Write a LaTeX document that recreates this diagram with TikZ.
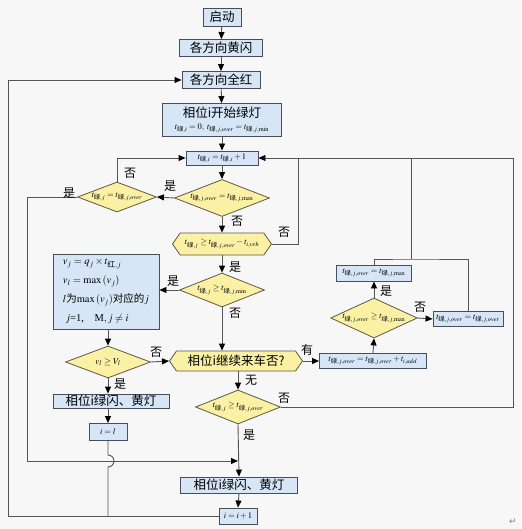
\documentclass[tikz,border=0pt]{standalone}
\usepackage{amsmath}
\usepackage{mathptmx}
\usepackage{fontspec}
\setmainfont{Liberation Serif}
\newfontfamily\cjk{Noto Sans CJK SC}
\newfontfamily\dejavu{DejaVu Sans}
\usetikzlibrary{shapes.geometric,shapes.symbols,arrows.meta}
\definecolor{bg}{HTML}{F7F7F7}
\definecolor{boxfill}{HTML}{D6E6F6}
\definecolor{boxline}{HTML}{4A4F57}
\definecolor{dfill}{HTML}{FAF1A4}
\definecolor{dline}{HTML}{5C5844}
\definecolor{ln}{HTML}{555555}
\newcommand{\lv}{\text{\cjk 绿}}
\newcommand{\hg}{\text{\cjk 红}}
\tikzset{
  box/.style={draw=boxline, fill=boxfill, line width=0.9pt, inner sep=0pt, align=center,
    font=\cjk\fontsize{12.5}{14}\selectfont},
  mbox/.style={box, font=\fontsize{8.5}{10}\selectfont},
  dia/.style={diamond, draw=dline, fill=dfill, line width=0.8pt, inner sep=0pt, aspect=2.6,
    font=\fontsize{8.5}{10}\selectfont},
  hexa/.style={signal, signal to=west and east, signal pointer angle=110, draw=dline, fill=dfill,
    line width=0.8pt, inner sep=0pt},
  conn/.style={draw=ln, line width=0.9pt},
  arr/.style={conn, -{Triangle[length=7pt,width=6pt,color=black]}},
  lab/.style={font=\cjk\fontsize{12}{13}\selectfont, inner sep=0pt}
}
\begin{document}
\begin{tikzpicture}[x=1pt,y=-1pt]
\fill[bg] (0,0) rectangle (521,529);
\useasboundingbox (0,0) rectangle (521,529);
% nodes
\node[box, minimum width=38, minimum height=18] (start) at (222,17) {启动};
\node[box, minimum width=83, minimum height=17] (yflash) at (221,48) {各方向黄闪};
\node[box, minimum width=78, minimum height=17] (allred) at (221,80) {各方向全红};
\node[box, minimum width=119, minimum height=33] (green) at (222,120)
  {相位i开始绿灯\\[-2pt]{\fontsize{8.5}{10}\selectfont $t_{\lv,i}=0,\ t_{\lv,j,over}=t_{\lv,j,\min}$}};
\node[mbox, minimum width=72, minimum height=14] (inc) at (222,158) {$t_{\lv,i}=t_{\lv,i}+1$};
\node[dia, minimum width=95, minimum height=37] (d1) at (222,198) {$t_{\lv,j,over}=t_{\lv,j,\max}$};
\node[dia, minimum width=79, minimum height=30] (d0) at (117,197) {$t_{\lv,j}=t_{\lv,j,over}$};
\node[hexa, minimum width=99, minimum height=22, font=\fontsize{8.5}{10}\selectfont] (h1) at (222,244)
  {$t_{\lv,j}\ge t_{\lv,j,over}-t_{i,veh}$};
\node[dia, minimum width=85, minimum height=34] (d3) at (222,290) {$t_{\lv,j}\ge t_{\lv,j,\min}$};
\node[box, minimum width=106, minimum height=75, align=left, font=\fontsize{10.5}{19}\selectfont] (big) at (106,291.5)
  {$v_j=q_j\times t_{\hg,j}$\\
   $v_l=\max\left(v_j\right)$\\
   $l${\cjk 为}$\max\left(v_j\right)${\cjk 对应的}$j$\\
   \ $j$=1,\quad M$,j\neq i$};
\node[dia, minimum width=85, minimum height=32, font=\fontsize{9}{10}\selectfont] (d5) at (108,362) {$v_l\ge V_l$};
\node[hexa, minimum width=133, minimum height=20, font=\cjk\fontsize{12.5}{14}\selectfont] (h2) at (236,361) {相位i继续来车否?};
\node[mbox, minimum width=107, minimum height=15] (addb) at (373,361) {$t_{\lv,j,over}=t_{\lv,j,over}+t_{i,add}$};
\node[dia, minimum width=86, minimum height=40] (d2) at (374,318) {$t_{\lv,j,over}\ge t_{\lv,j,\max}$};
\node[mbox, minimum width=75, minimum height=16] (maxb) at (374,273) {$t_{\lv,j,over}=t_{\lv,j,\max}$};
\node[mbox, minimum width=70, minimum height=15] (keepb) at (468,319) {$t_{\lv,j,over}=t_{\lv,j,over}$};
\node[dia, minimum width=85, minimum height=34] (d4) at (238,407) {$t_{\lv,j}\ge t_{\lv,j,over}$};
\node[box, minimum width=116, minimum height=14] (yl) at (111,401) {相位i绿闪、黄灯};
\node[mbox, minimum width=38, minimum height=17] (il) at (108,432) {$i=l$};
\node[box, minimum width=117, minimum height=16] (yr) at (239,485) {相位i绿闪、黄灯};
\node[mbox, minimum width=38, minimum height=16] (ii) at (238,516) {$i=i+1$};
\node[text=gray, font=\dejavu\fontsize{9}{10}\selectfont, inner sep=0pt] (pm) at (513,522) {↵};
% coordinates
\coordinate (ltop) at (8,80);
\coordinate (rtop) at (513,158);
\coordinate (mj) at (411,259);
\coordinate (lx) at (27,461);
\coordinate (hopa) at (108,455);
\coordinate (bot) at (108,516);
\coordinate (hx) at (298,158);
% connectors main column
\draw[arr] (start) -- (yflash);
\draw[arr] (yflash) -- (allred);
\draw[arr] (allred) -- (green);
\draw[arr] (green) -- (inc);
\draw[arr] (inc) -- (d1);
\draw[arr] (d1.west) -- (d0.east);
\draw[arr] (d0.north) |- (inc.west);
\draw[arr] (d0.west) -| (lx) -- (lx -| d4.south);
\draw[arr] (d1.south) -- (h1.north);
\draw[conn] (h1.east) -| (hx);
\draw[arr] (d4.east) -| (rtop) -- (inc.east);
\draw[conn] (maxb.north) |- (mj) -| (keepb.north);
\draw[conn] (mj) -- (mj |- rtop);
\draw[arr] (h1.south) -- (d3.north);
\draw[arr] (d3.west) -- (d3.west -| big.east);
\draw[arr] (d3.south) -- (d3.south |- h2.north);
\draw[arr] (d5.north |- big.south) -- (d5.north);
\draw[arr] (d5.east) -- (h2.west);
\draw[arr] (d5.south) -- (d5.south |- yl.north);
\draw[arr] (il.north |- yl.south) -- (il.north);
\draw[conn] (il.south) -- (hopa) arc[start angle=-90, end angle=90, radius=6] -- (bot);
\draw[arr] (h2.east) -- (addb.west);
\draw[arr] (addb.north) -- (d2.south);
\draw[arr] (d2.north) -- (maxb.south);
\draw[arr] (d2.east) -- (keepb.west);
\draw[arr] (d4.north |- h2.south) -- (d4.north);
\draw[arr] (d4.south) -- (yr.north);
\draw[arr] (yr.south) -- (ii.north);
\draw[arr] (ii.west) -| (ltop) -- (allred.west);
% labels
\node[lab] (l1) at (170,186) {是};
\node[lab] (l2) at (130,173) {否};
\node[lab] (l3) at (69,193) {是};
\node[lab] (l4) at (237,221) {否};
\node[lab] (l5) at (284,232) {否};
\node[lab] (l6) at (235,267) {是};
\node[lab] (l7) at (173,281) {是};
\node[lab] (l8) at (235,313) {否};
\node[lab] (l9) at (156,352) {否};
\node[lab] (l10) at (120,384) {是};
\node[lab] (l11) at (307,350) {有};
\node[lab] (l12) at (251,380) {无};
\node[lab] (l13) at (284,398) {否};
\node[lab] (l14) at (249,435) {是};
\node[lab] (l15) at (386,291) {是};
\node[lab] (l16) at (420,307) {否};
\end{tikzpicture}
\end{document}
